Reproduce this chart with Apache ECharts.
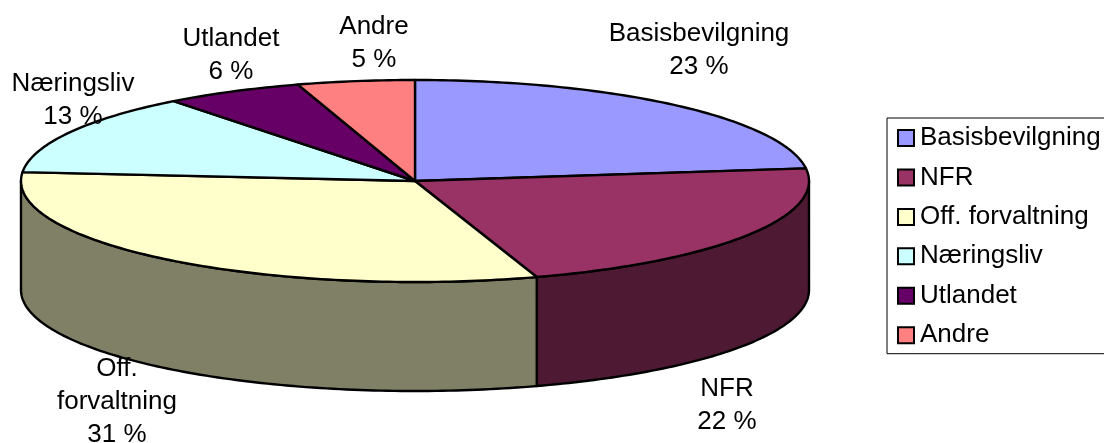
<!DOCTYPE html>
<html>
<head>
<meta charset="utf-8">
<style>
  html, body { margin: 0; padding: 0; background: #fff; }
  #main { width: 1104px; height: 443px; }
</style>
<script src="https://cdn.jsdelivr.net/npm/echarts@6/dist/echarts.min.js"></script>
</head>
<body>
<div id="main"></div>
<script>
const names = ["Basisbevilgning", "NFR", "Off. forvaltning", "Næringsliv", "Utlandet", "Andre"];
const shares = [23, 22, 31.4, 13.1, 5.7, 4.8]; // labels show these rounded
const labelLines = [["Basisbevilgning"], ["NFR"], ["Off.", "forvaltning"], ["Næringsliv"], ["Utlandet"], ["Andre"]];

const topColors = ["#9999FF", "#993366", "#FFFFCC", "#CCFFFF", "#660066", "#FF8080"];
const sideColors = ["#4D4D80", "#4D1933", "#808066", "#668080", "#330033", "#804040"];
// where each label block starts (centre x, top y)
const labelAnchors = [[699, 17], [727, 372], [117, 352], [73, 67], [231, 22], [374, 10]];

const FONT = 'Liberation Sans, Arial, sans-serif';
const cx = 415, cy = 181, rx = 394, ry = 101, depth = 109;

const total = shares.reduce((a, b) => a + b, 0);
const rim = (deg, drop) => {
  const r = deg * Math.PI / 180;
  return [cx + rx * Math.sin(r), cy - ry * Math.cos(r) + (drop || 0)];
};
const arc = (from, to, drop) => {
  const pts = [];
  const steps = Math.max(2, Math.ceil(Math.abs(to - from)));
  for (let i = 0; i <= steps; i++) pts.push(rim(from + (to - from) * i / steps, drop));
  return pts;
};

let running = 0;
const slices = shares.map((v) => {
  const from = running / total * 360;
  running += v;
  return [from, running / total * 360];
});

const lineStyle = { stroke: "#000", lineWidth: 2.4, lineJoin: "round" };

const series = names.map((name, i) => ({
  type: "custom",
  name: name,
  coordinateSystem: "none",
  silent: true,
  animation: false,
  itemStyle: { color: topColors[i] },
  data: [shares[i]],
  renderItem: () => {
    const [from, to] = slices[i];
    const children = [];
    // only the front half of the rim has a visible wall
    const a = Math.max(from, 90), b = Math.min(to, 270);
    if (a < b) {
      children.push({
        type: "polygon",
        shape: { points: arc(a, b, 0).concat(arc(b, a, depth)) },
        style: { fill: sideColors[i], ...lineStyle },
      });
    }
    children.push({
      type: "polygon",
      shape: { points: [[cx, cy]].concat(arc(from, to, 0)) },
      style: { fill: topColors[i], ...lineStyle },
    });
    return { type: "group", children };
  },
}));

const labels = names.map((name, i) => ({
  type: "text",
  z: 100,
  silent: true,
  style: {
    x: labelAnchors[i][0],
    y: labelAnchors[i][1],
    text: labelLines[i].concat(Math.round(shares[i]) + " %").join("\n"),
    align: "center",
    verticalAlign: "top",
    font: "26px " + FONT,
    lineHeight: 33,
    fill: "#000",
  },
}));

const chart = echarts.init(document.getElementById("main"), null, { renderer: "canvas" });
chart.setOption({
  animation: false,
  backgroundColor: "#fff",
  legend: {
    orient: "vertical",
    left: 887,
    top: 118,
    data: names,
    icon: "rect",
    selectedMode: false,
    itemWidth: 16,
    itemHeight: 16,
    itemGap: 12.44,
    padding: [6.5, 6, 5, 10],
    borderColor: "#000",
    borderWidth: 1,
    itemStyle: { borderColor: "#000", borderWidth: 2 },
    textStyle: { fontFamily: FONT, fontSize: 26, color: "#000", lineHeight: 23, padding: [4, 0, 0, 1] },
  },
  graphic: labels,
  series: series,
});
</script>
</body>
</html>
